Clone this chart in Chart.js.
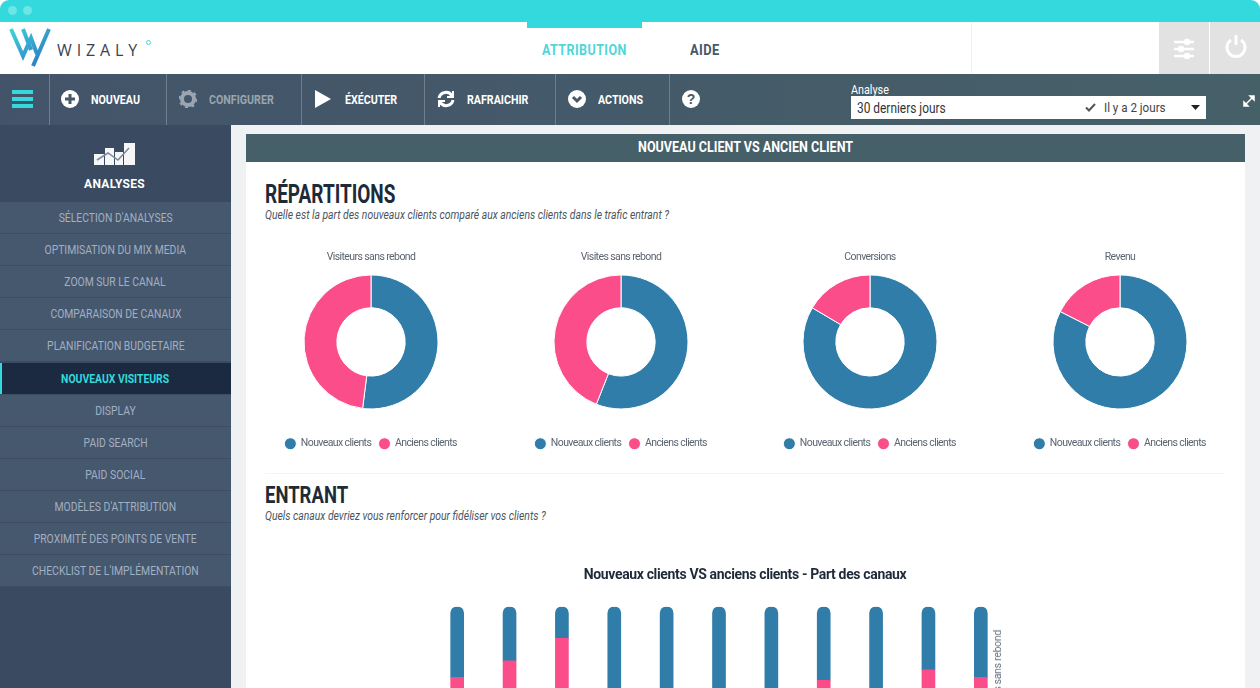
<!DOCTYPE html>
<html lang="fr">

<head>
    <meta charset="UTF-8" />
    <title>Wizaly - Nouveau client vs ancien client</title>
    <script src="https://cdn.jsdelivr.net/npm/chart.js"></script>
    <style>
        html, body { margin: 0; padding: 0; width: 1260px; height: 688px; overflow: hidden; background: #fff; }
        body { position: relative; font-family: Roboto, sans-serif; }
        .abs { position: absolute; white-space: nowrap; }
        .narrow { transform-origin: left center; }
        .top { left: 0; top: 0; width: 1260px; height: 22px; background: #33d9dc; border-radius: 9px 9px 0 0; }
        .dot { width: 9px; height: 9px; top: 6px; border-radius: 50%; background: #6ee6e8; }
        .toolbar { left: 0; top: 74px; width: 1260px; height: 51px; background: linear-gradient(90deg, #43546a, #466068); }
        .sep { top: 74px; width: 1px; height: 51px; background: #6d7f8d; }
        .tool { top: 92px; font-size: 13px; font-weight: bold; color: #fff; line-height: 16px; transform: scaleX(.82); transform-origin: left center; }
        .side { left: 0; top: 125px; width: 231px; height: 563px; background: #3a4a60; }
        .item { left: 0; width: 231px; height: 31px; line-height: 31px; text-align: center; font-size: 12.5px; color: #a3afc2; background: #46586e; border-bottom: 1px solid #3d4e63; }
        .item span { display: inline-block; transform: scaleX(.83); }
        .item.active { background: #1b2a40; color: #33d9dc; font-weight: bold; box-shadow: inset 2px 0 0 #33d9dc; }
        .page { left: 231px; top: 125px; width: 1029px; height: 563px; background: #f0f1f3; }
        .card { left: 246px; top: 134px; width: 999px; height: 554px; background: #fff; }
        .band { left: 246px; top: 134px; width: 999px; height: 28px; line-height: 26px; text-align: center; background: #46606a; color: #fff; font-size: 15px; font-weight: bold; }
        .band span { display: inline-block; transform: scaleX(.836); }
        h2 { margin: 0; font-weight: bold; color: #1e2a38; transform-origin: left center; }
        .sub { font-size: 12px; font-style: italic; color: #4a5560; transform: scaleX(.865); transform-origin: left center; }
        canvas { position: absolute; }
    </style>
</head>

<body>
    <div class="abs top"></div>
    <div class="abs dot" style="left:8px"></div>
    <div class="abs dot" style="left:23px"></div>

    <!-- logo -->
    <svg class="abs" style="left:9px;top:26px" width="42" height="42" viewBox="0 0 42 42">
        <defs><linearGradient id="lg" x1="0" y1="0" x2="1" y2="1"><stop offset="0" stop-color="#3fd3dc" /><stop offset="1" stop-color="#2a6fc0" /></linearGradient></defs>
        <path d="M2 3 L14 30 L22 12 L28 28 M14 3 L22 24 M40 3 L24 40" fill="none" stroke="url(#lg)" stroke-width="4" />
    </svg>
    <div class="abs" style="left:57px;top:39px;font:16px 'Open Sans',sans-serif;letter-spacing:4.9px;color:#3c4250">WIZALY</div>
    <div class="abs" style="left:146px;top:40px;width:3px;height:3px;border:1px solid #4fd3dc;border-radius:50%"></div>

    <div class="abs" style="left:527px;top:22px;width:115px;height:6px;background:#33d9dc"></div>
    <div class="abs narrow" style="left:542px;top:41px;font-size:15.5px;font-weight:bold;color:#4fd6da;letter-spacing:.5px;transform:scaleX(.81)">ATTRIBUTION</div>
    <div class="abs narrow" style="left:690px;top:41px;font-size:15.5px;font-weight:bold;color:#45596a;letter-spacing:.5px;transform:scaleX(.83)">AIDE</div>
    <div class="abs" style="left:971px;top:22px;width:1px;height:52px;background:#f0f0f0"></div>
    <div class="abs" style="left:1159px;top:22px;width:50px;height:52px;background:#e2e2e2"></div>
    <div class="abs" style="left:1210px;top:22px;width:50px;height:52px;background:#e2e2e2"></div>
    <svg class="abs" style="left:1172px;top:38px" width="24" height="22" viewBox="0 0 24 22" stroke="#fff" stroke-width="2.5" fill="#fff">
        <path d="M2 4H22M2 11H22M2 18H22" /><circle cx="15" cy="4" r="2" /><circle cx="9" cy="11" r="2" /><circle cx="15" cy="18" r="2" />
    </svg>
    <svg class="abs" style="left:1224px;top:34px" width="24" height="24" viewBox="0 0 24 24" stroke="#fff" stroke-width="3" fill="none">
        <path d="M7 6 A9 9 0 1 0 17 6 M12 1V11" />
    </svg>

    <!-- barre d'outils -->
    <div class="abs toolbar"></div>
    <div class="abs sep" style="left:49px"></div>
    <div class="abs sep" style="left:166px"></div>
    <div class="abs sep" style="left:301px"></div>
    <div class="abs sep" style="left:424px"></div>
    <div class="abs sep" style="left:555px"></div>
    <div class="abs sep" style="left:669px"></div>
    <svg class="abs" style="left:12px;top:90px" width="21" height="19" fill="#33d9dc"><rect width="21" height="4" /><rect y="7" width="21" height="4" /><rect y="14" width="21" height="4" /></svg>
    <svg class="abs" style="left:61px;top:90px" width="18" height="18"><circle cx="9" cy="9" r="9" fill="#fff" /><path d="M9 4V14M4 9H14" stroke="#45596a" stroke-width="3" /></svg>
    <div class="abs tool" style="left:91px">NOUVEAU</div>
    <svg class="abs" style="left:179px;top:90px" width="18" height="18"><circle cx="9" cy="9" r="6" fill="none" stroke="#9aa5af" stroke-width="4" /><circle cx="9" cy="9" r="8.5" fill="none" stroke="#9aa5af" stroke-width="2" stroke-dasharray="3 3.6" /></svg>
    <div class="abs tool" style="left:209px;color:#9aa5af">CONFIGURER</div>
    <svg class="abs" style="left:315px;top:90px" width="17" height="18"><path d="M0 0L16 9L0 18Z" fill="#fff" /></svg>
    <div class="abs tool" style="left:345px">ÉXÉCUTER</div>
    <svg class="abs" style="left:437px;top:90px" width="18" height="18" fill="none" stroke="#fff" stroke-width="3"><path d="M2 8A7 7 0 0 1 15 6M16 10A7 7 0 0 1 3 12" /><path d="M16 1V7H10M2 17V11H8" stroke-width="2" /></svg>
    <div class="abs tool" style="left:467px">RAFRAICHIR</div>
    <svg class="abs" style="left:568px;top:90px" width="18" height="18"><circle cx="9" cy="9" r="9" fill="#fff" /><path d="M5 7L9 11L13 7" fill="none" stroke="#45596a" stroke-width="3" /></svg>
    <div class="abs tool" style="left:598px">ACTIONS</div>
    <svg class="abs" style="left:682px;top:90px" width="18" height="18"><circle cx="9" cy="9" r="9" fill="#fff" /><text x="9" y="14" text-anchor="middle" font-size="14" font-weight="bold" fill="#45596a" font-family="Liberation Sans">?</text></svg>
    <div class="abs narrow" style="left:851px;top:82px;font-size:13px;color:#fff;line-height:15px;transform:scaleX(.83)">Analyse</div>
    <div class="abs" style="left:851px;top:96px;width:355px;height:23px;background:#fff"></div>
    <div class="abs narrow" style="left:857px;top:100px;font-size:14px;color:#333;line-height:16px;transform:scaleX(.85)">30 derniers jours</div>
    <svg class="abs" style="left:1085px;top:103px" width="11" height="9"><path d="M1 4.500L4 7.500L10 1" fill="none" stroke="#555" stroke-width="2" /></svg>
    <div class="abs narrow" style="left:1104px;top:99px;font-size:13.5px;color:#444;line-height:16px;transform:scaleX(.86)">Il y a 2 jours</div>
    <svg class="abs" style="left:1191px;top:105px" width="9" height="5"><path d="M0 0H9L4.500 5Z" fill="#222" /></svg>
    <svg class="abs" style="left:1243px;top:95px" width="12" height="12" stroke="#fff" stroke-width="1.500" fill="#fff"><path d="M2 10L10 2" /><path d="M7 1H11V5ZM1 7V11H5Z" /></svg>

    <!-- menu -->
    <div class="abs side"></div>
    <svg class="abs" style="left:94px;top:143px" width="42" height="23" fill="#f4f6f8"><rect y="11" width="10" height="11" /><rect x="11" y="5" width="9" height="17" /><rect x="21" y="9" width="8" height="13" /><rect x="30" y="0" width="11" height="22" /><path d="M3 17L14 10L24 17L35 5" stroke="#7d8a9a" stroke-width="1.500" fill="none" /></svg>
    <div class="abs" style="left:0;top:177px;width:229px;text-align:center;font:bold 12px Roboto,sans-serif;color:#fff;letter-spacing:.3px">ANALYSES</div>
    <div id="menu"></div>

    <!-- contenu -->
    <div class="abs page"></div>
    <div class="abs card"></div>
    <div class="abs band"><span>NOUVEAU CLIENT VS ANCIEN CLIENT</span></div>
    <h2 class="abs" style="left:265px;top:180px;font-size:26px;line-height:28px;transform:scaleX(.73)">RÉPARTITIONS</h2>
    <div class="abs sub" style="left:265px;top:208px">Quelle est la part des nouveaux clients comparé aux anciens clients dans le trafic entrant ?</div>
    <div class="abs" style="left:265px;top:473px;width:960px;height:1px;background:#f4f4f4"></div>
    <h2 class="abs" style="left:265px;top:481px;font-size:24px;line-height:28px;transform:scaleX(.77)">ENTRANT</h2>
    <div class="abs sub" style="left:265px;top:509px">Quels canaux devriez vous renforcer pour fidéliser vos clients ?</div>

    <canvas id="donut0" style="left:246px;top:245px" width="250" height="214"></canvas>
    <canvas id="donut1" style="left:496px;top:245px" width="250" height="214"></canvas>
    <canvas id="donut2" style="left:745px;top:245px" width="250" height="214"></canvas>
    <canvas id="donut3" style="left:995px;top:245px" width="250" height="214"></canvas>
    <canvas id="barChart" style="left:246px;top:560px" width="998" height="240"></canvas>
    <div class="abs" style="left:992px;top:630px;font-size:10.5px;letter-spacing:-.3px;line-height:11px;color:#6a7480;writing-mode:vertical-rl;transform:rotate(180deg)">Visiteurs sans rebond</div>

    <script>
        const menuLabels = ["SÉLECTION D'ANALYSES", "OPTIMISATION DU MIX MEDIA", "ZOOM SUR LE CANAL", "COMPARAISON DE CANAUX",
            "PLANIFICATION BUDGETAIRE", "NOUVEAUX VISITEURS", "DISPLAY", "PAID SEARCH", "PAID SOCIAL",
            "MODÈLES D'ATTRIBUTION", "PROXIMITÉ DES POINTS DE VENTE", "CHECKLIST DE L'IMPLÉMENTATION"];

        const segmentLabels = ['Nouveaux clients', 'Anciens clients'];
        const donutTitles = ['Visiteurs sans rebond', 'Visites sans rebond', 'Conversions', 'Revenu'];
        const nouveauxShare = [52, 56, 83.5, 82.5];
        const anciensShare = [48, 44, 16.5, 17.5];

        const canaux = ['Canal 1', 'Canal 2', 'Canal 3', 'Canal 4', 'Canal 5', 'Canal 6', 'Canal 7', 'Canal 8', 'Canal 9', 'Canal 10', 'Canal 11'];
        const canauxAnciens = [53, 64, 79, 0, 0, 0, 0, 51, 0, 58, 53];
        const canauxNouveaux = [47, 36, 21, 100, 100, 100, 100, 49, 100, 42, 47];

        const BLUE = '#2f7da8';
        const PINK = '#fb4d8a';
        const FONT = 'Roboto, sans-serif';

        menuLabels.forEach((label, i) => {
            const row = document.createElement('div');
            row.className = 'abs item' + (i === 5 ? ' active' : '');
            row.style.top = (202 + i * 32.1) + 'px';
            const text = document.createElement('span');
            text.textContent = label;
            row.appendChild(text);
            document.getElementById('menu').appendChild(row);
        });

        // the reference font is condensed, none is installed: tighten the canvas text instead
        function tightText(spacing) {
            return {
                id: 'tightText',
                beforeUpdate(chart) { chart.ctx.letterSpacing = spacing; },
            };
        }

        donutTitles.forEach((title, i) => {
            new Chart(document.getElementById('donut' + i), {
                type: 'doughnut',
                plugins: [tightText('-0.6px')],
                data: {
                    labels: segmentLabels,
                    datasets: [{
                        data: [nouveauxShare[i], anciensShare[i]],
                        backgroundColor: [BLUE, PINK],
                        borderColor: '#fff',
                        borderWidth: 1,
                    }],
                },
                options: {
                    responsive: false,
                    animation: false,
                    radius: 67,
                    cutout: '51%',
                    plugins: {
                        tooltip: { enabled: false },
                        title: {
                            display: true,
                            text: title,
                            color: '#5b6570',
                            font: { family: FONT, size: 10.5, weight: 'normal' },
                            padding: { top: 6, bottom: 0 },
                        },
                        legend: {
                            position: 'bottom',
                            title: { display: true, text: ' ', font: { size: 1 }, padding: { top: 9, bottom: 0 } },
                            labels: {
                                usePointStyle: true,
                                pointStyle: 'circle',
                                boxWidth: 12,
                                boxHeight: 8.5,
                                padding: 8,
                                color: '#5b6570',
                                font: { family: FONT, size: 10.5 },
                            },
                        },
                    },
                },
            });
        });

        new Chart(document.getElementById('barChart'), {
            type: 'bar',
            plugins: [tightText('-0.35px')],
            data: {
                labels: canaux,
                datasets: [
                    { label: 'Anciens clients', data: canauxAnciens, backgroundColor: PINK, barThickness: 13 },
                    {
                        label: 'Nouveaux clients',
                        data: canauxNouveaux,
                        backgroundColor: BLUE,
                        barThickness: 13,
                        borderRadius: { topLeft: 7, topRight: 7 },
                        borderSkipped: false,
                    },
                ],
            },
            options: {
                responsive: false,
                animation: false,
                layout: { padding: { bottom: 43 } },
                scales: {
                    x: { stacked: true, display: false },
                    y: {
                        stacked: true, min: 0, max: 100,
                        grid: { display: false }, border: { display: false }, ticks: { display: false },
                        afterFit: (axis) => { axis.width = 185; },
                    },
                    // empty axis, keeps the plot off the right side so the title stays centred on the card
                    y2: {
                        position: 'right', min: 0, max: 100,
                        grid: { display: false }, border: { display: false }, ticks: { display: false },
                        afterFit: (axis) => { axis.width = 237; },
                    },
                },
                plugins: {
                    legend: { display: false },
                    tooltip: { enabled: false },
                    title: {
                        display: true,
                        text: 'Nouveaux clients VS anciens clients - Part des canaux',
                        color: '#1e2a38',
                        font: { family: FONT, size: 14, weight: 'bold' },
                        padding: { top: 7, bottom: 23 },
                    },
                },
            },
        });
    </script>
</body>

</html>
